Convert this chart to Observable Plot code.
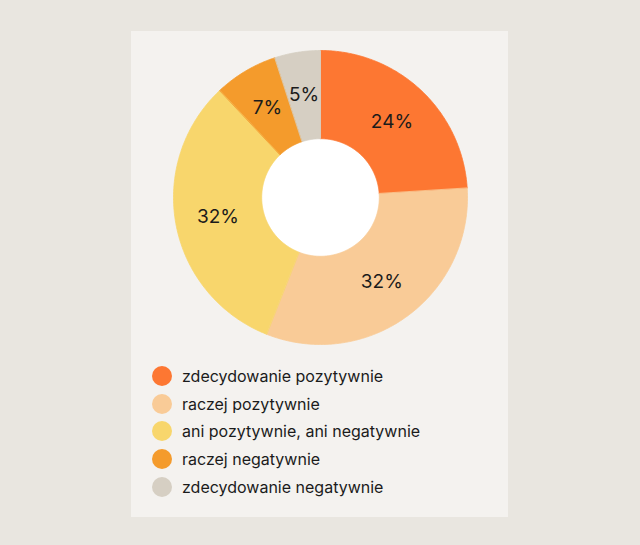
<!DOCTYPE html>
<html>
<head>
<meta charset="utf-8">
<script src="https://cdn.jsdelivr.net/npm/d3@7"></script>
<script src="https://cdn.jsdelivr.net/npm/@observablehq/plot@0.6"></script>
<style>
  html, body { margin: 0; padding: 0; }
  body { width: 640px; height: 545px; background: #e9e6e0; position: relative; overflow: hidden;
         font-family: Inter, "Noto Sans", sans-serif; }
  #card { position: absolute; left: 131px; top: 31px; width: 377px; height: 486px; background: #f4f2ef; }
  #legend { margin-top: -1px; padding-left: 21px; }
  .row { display: flex; align-items: center; height: 27.8px; font-size: 16px; color: #1b1b1b; }
  .sw { width: 20px; height: 20px; border-radius: 50%; margin-right: 10px; flex: none; }
</style>
</head>
<body>
<div id="card"><div id="chart"></div><div id="legend"></div></div>
<script>
const categories = ["zdecydowanie pozytywnie", "raczej pozytywnie", "ani pozytywnie, ani negatywnie", "raczej negatywnie", "zdecydowanie negatywnie"];
const values = [24, 32, 32, 7, 5];
const colors = ["#fd7732", "#f9cb97", "#f8d66c", "#f49b2c", "#d6cfc3"];
const labels = ["24%", "32%", "32%", "7%", "5%"];

const inner = 0.40, outer = 1.0, labelR = 0.71;
const total = d3.sum(values);
const ends = d3.cumsum(values);
const slices = categories.map((c, i) => {
  const a0 = (ends[i] - values[i]) / total * 2 * Math.PI;
  const a1 = ends[i] / total * 2 * Math.PI;
  return {category: c, a0, a1, mid: (a0 + a1) / 2, label: labels[i]};
});

// polygon vertices of each ring slice, in unit-circle data coordinates
const verts = [];
for (const s of slices) {
  const n = Math.max(4, Math.ceil((s.a1 - s.a0) / 0.01));
  for (let k = 0; k <= n; k++) {
    const a = s.a0 + (s.a1 - s.a0) * k / n;
    verts.push({category: s.category, x: outer * Math.sin(a), y: outer * Math.cos(a)});
  }
  for (let k = n; k >= 0; k--) {
    const a = s.a0 + (s.a1 - s.a0) * k / n;
    verts.push({category: s.category, x: inner * Math.sin(a), y: inner * Math.cos(a)});
  }
}
const labelPts = slices.map(s => ({label: s.label, x: labelR * Math.sin(s.mid), y: labelR * Math.cos(s.mid)}));

const chart = Plot.plot({
  width: 377, height: 332,
  marginLeft: 42, marginRight: 41, marginTop: 19, marginBottom: 19,
  x: {domain: [-1, 1], axis: null},
  y: {domain: [-1, 1], axis: null},
  color: {domain: categories, range: colors},
  style: {background: "transparent", fontFamily: "Inter, 'Noto Sans', sans-serif"},
  marks: [
    Plot.dot([{x: 0, y: 0}], {x: "x", y: "y", r: 59, fill: "white"}),
    Plot.line(verts, {x: "x", y: "y", z: "category", fill: "category", stroke: "category", strokeWidth: 0.8, curve: "linear-closed"}),
    Plot.text(labelPts, {x: "x", y: "y", text: "label", fontSize: 19, fill: "#1b1b1b"})
  ]
});
document.getElementById("chart").appendChild(chart);

const legend = document.getElementById("legend");
categories.forEach((c, i) => {
  const row = document.createElement("div");
  row.className = "row";
  row.innerHTML = `<span class="sw" style="background:${colors[i]}"></span><span>${c}</span>`;
  legend.appendChild(row);
});
</script>
</body>
</html>
